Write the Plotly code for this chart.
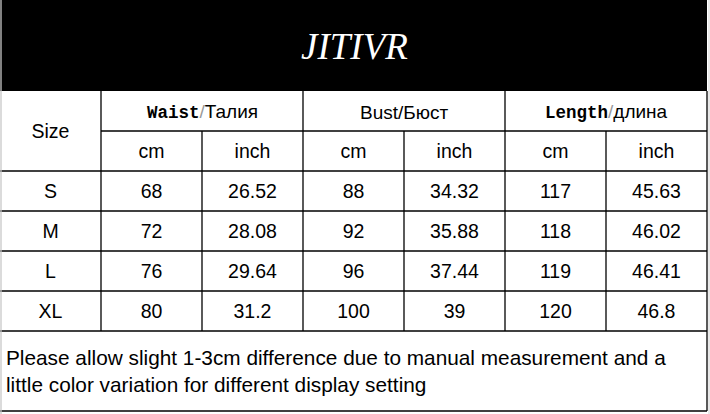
import plotly.graph_objects as go

# size chart data
brand = "JITIVR"
sizes = ["S", "M", "L", "XL"]
groups = ["Waist/Талия", "Bust/Бюст", "Length/длина"]
units = ["cm", "inch"]
waist_cm = [68, 72, 76, 80]
waist_inch = [26.52, 28.08, 29.64, 31.2]
bust_cm = [88, 92, 96, 100]
bust_inch = [34.32, 35.88, 37.44, 39]
length_cm = [117, 118, 119, 120]
length_inch = [45.63, 46.02, 46.41, 46.8]
note = ("Please allow slight 1-3cm difference due to manual measurement and a<br>"
        "little color variation for different display setting")

columns = [waist_cm, waist_inch, bust_cm, bust_inch, length_cm, length_inch]

# grid geometry (pixels, y downwards)
col_w = 101
x_edges = [0] + [101 + i * col_w for i in range(7)]   # 0,101,...,707
head_bottom = 91
row_h = 40
y_group = head_bottom
y_unit = y_group + row_h
y_rows = [y_unit + row_h * (i + 1) for i in range(len(sizes) + 1)]  # 171..331
y_bottom = 411
right = x_edges[-1]
dy = 2.5  # scatter text sits a bit high, nudge down

fig = go.Figure()

shapes = []
shapes.append(dict(type="rect", x0=0, x1=right, y0=0, y1=head_bottom,
                   fillcolor="black", line=dict(width=0), layer="below"))

def hline(y, x0, x1, color="black"):
    shapes.append(dict(type="line", x0=x0, x1=x1, y0=y, y1=y,
                       line=dict(color=color, width=1.3)))

def vline(x, y0, y1, color="black"):
    shapes.append(dict(type="line", x0=x, x1=x, y0=y0, y1=y1,
                       line=dict(color=color, width=1.3)))

hline(y_unit, x_edges[1], right)
for y in y_rows:
    hline(y, 0, right)
hline(y_bottom, 0, right)
for i, x in enumerate(x_edges[1:-1]):
    top = y_group if i % 2 == 0 else y_unit
    vline(x, top, y_rows[-1])
vline(right, head_bottom, y_bottom)
vline(1, 0, 414, color="#c8c8c8")
vline(709, 0, 414, color="#dcdcdc")

# data cells
xs, ys, txt = [], [], []
for r, s in enumerate(sizes):
    yc = (y_rows[r] + y_rows[r + 1]) / 2 + dy
    xs.append((x_edges[0] + x_edges[1]) / 2)
    ys.append(yc)
    txt.append(s)
    for c, col in enumerate(columns):
        xs.append((x_edges[c + 1] + x_edges[c + 2]) / 2)
        ys.append(yc)
        txt.append(str(col[r]))
# unit row
for c in range(6):
    xs.append((x_edges[c + 1] + x_edges[c + 2]) / 2)
    ys.append((y_unit + y_rows[0]) / 2 + dy)
    txt.append(units[c % 2])
xs.append((x_edges[0] + x_edges[1]) / 2)
ys.append((y_group + y_rows[0]) / 2 + dy)
txt.append("Size")

fig.add_trace(go.Scatter(x=xs, y=ys, text=txt, mode="text",
                         textfont=dict(family="Liberation Sans", size=19.5, color="black"),
                         hoverinfo="skip"))

# group headers with mixed fonts
mono = "font-family:'Liberation Mono';font-weight:bold;font-size:17.5px"
for g, label in enumerate(groups):
    en, ru = label.split("/")
    if g == 1:
        html = label
    else:
        html = (f"<span style=\"{mono}\">{en}</span>"
                f"<span style=\"color:#999999\">/</span>{ru}")
    fig.add_annotation(x=(x_edges[1 + 2 * g] + x_edges[3 + 2 * g]) / 2,
                       y=(y_group + y_unit) / 2 + 1, text=html, showarrow=False,
                       font=dict(family="Liberation Sans", size=19, color="black"))

fig.add_annotation(x=right / 2 + 1, y=head_bottom / 2 + 1, text=f"<i>{brand}</i>",
                   showarrow=False,
                   font=dict(family="Liberation Serif", size=37, color="white"))

fig.add_annotation(x=4, y=(y_rows[-1] + y_bottom) / 2, text=note, showarrow=False,
                   xanchor="left", align="left",
                   font=dict(family="Liberation Sans", size=20.8, color="black"))

fig.update_layout(width=710, height=414, margin=dict(l=0, r=0, t=0, b=0),
                  paper_bgcolor="white", plot_bgcolor="white",
                  showlegend=False, shapes=shapes,
                  xaxis=dict(range=[0, 710], visible=False, fixedrange=True),
                  yaxis=dict(range=[414, 0], visible=False, fixedrange=True))

fig.write_html("out.html", config={"displayModeBar": False},
               post_script="document.body.style.margin='0';")
